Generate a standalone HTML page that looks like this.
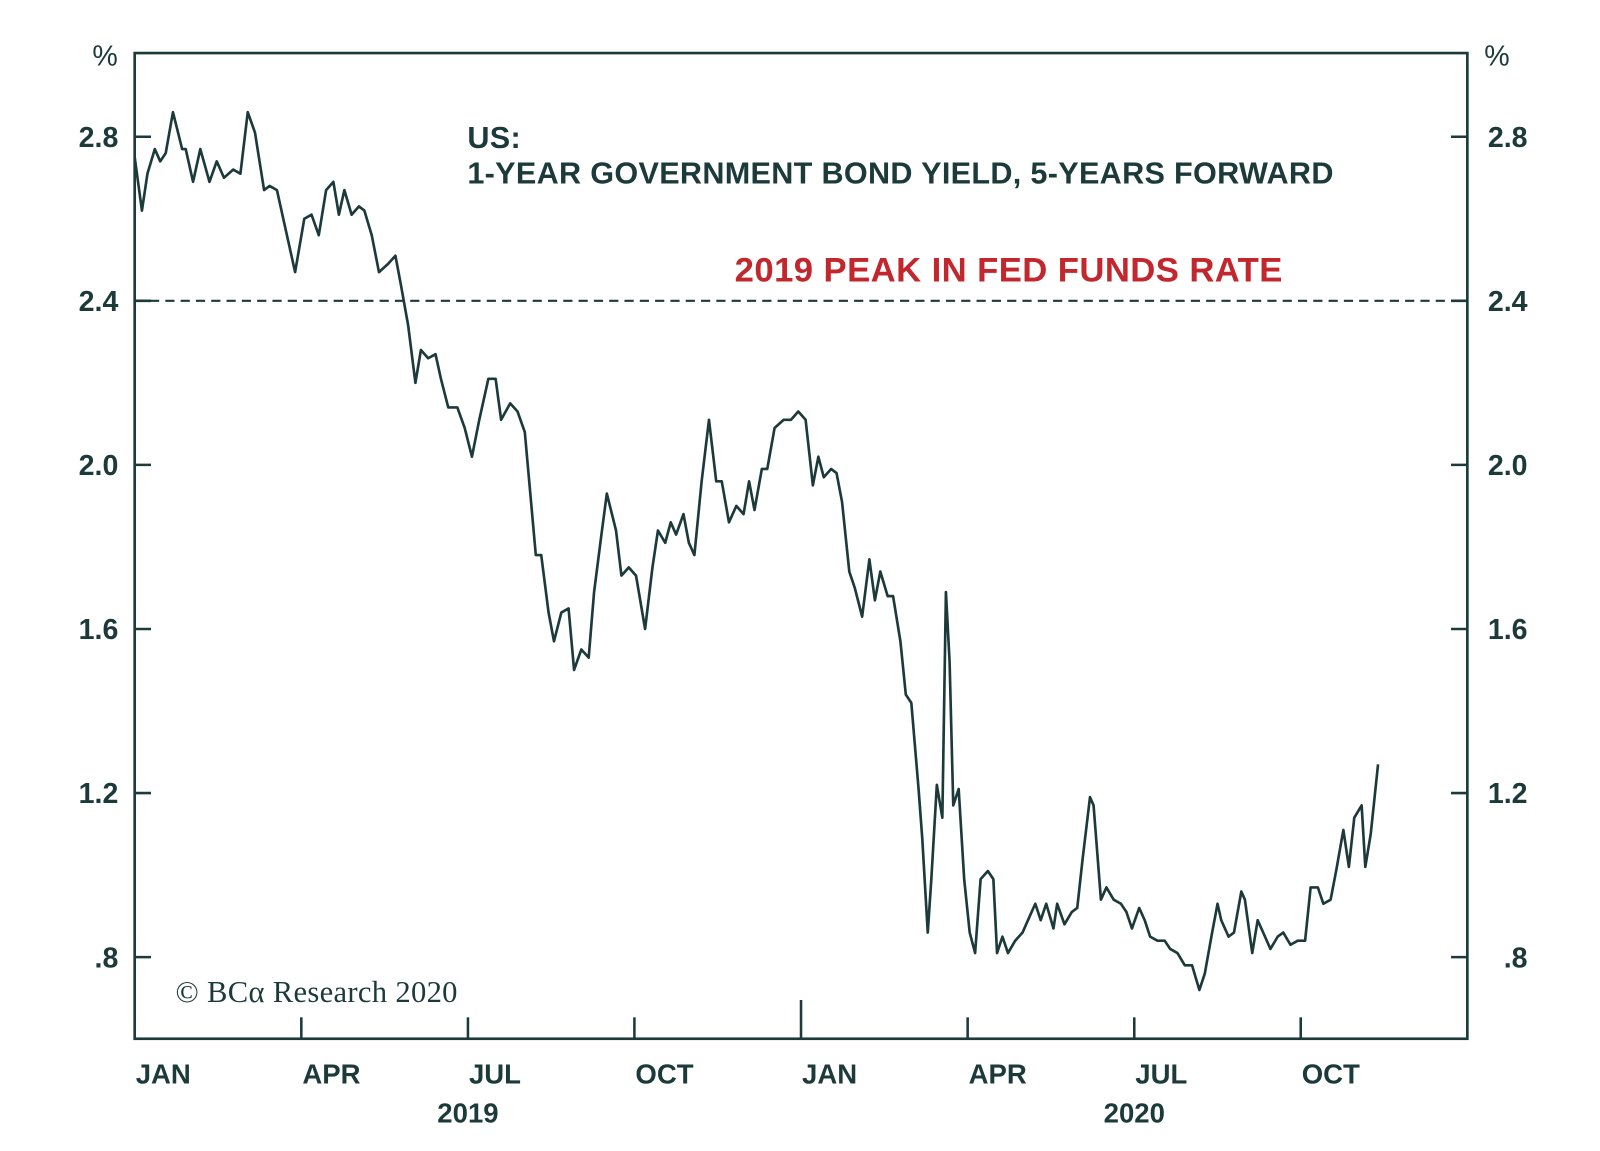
<!DOCTYPE html>
<html><head><meta charset="utf-8"><style>
html,body{margin:0;padding:0;background:#fff;}
svg{display:block;font-family:"Liberation Sans",sans-serif;}
.t{fill:#1d3a3a;font-weight:bold;font-size:28px;}
.m{fill:#1d3a3a;font-weight:bold;font-size:27px;}
</style></head><body>
<svg id="chart" width="1600" height="1151" viewBox="0 0 1568 1128" preserveAspectRatio="none">
<g id="axes"></g>
<g id="series"></g>
<text x="458" y="145" class="t" style="font-size:30px;letter-spacing:0.3px">US:</text>
<text x="458" y="180" class="t" style="font-size:30px;letter-spacing:0.3px">1-YEAR GOVERNMENT BOND YIELD, 5-YEARS FORWARD</text>
<text x="720" y="276" style="fill:#c1272d;font-weight:bold;font-size:34px;letter-spacing:0.4px">2019 PEAK IN FED FUNDS RATE</text>
<text x="172" y="982" style="fill:#1d3a3a;font-family:'Liberation Serif',serif;font-size:30px;letter-spacing:0.3px">© BCα Research 2020</text>
<script>
const days=[0,4,7,11,14,17,21,26,28,32,36,41,45,49,54,58,62,66,71,74,78,83,88,93,97,101,105,109,112,115,119,123,126,130,134,139,143,146,150,154,157,161,165,168,172,177,181,185,189,194,198,201,206,210,214,220,223,227,230,234,238,241,245,249,252,256,259,264,267,271,275,280,284,287,291,294,297,301,304,307,311,315,319,322,326,330,334,337,340,344,347,351,356,360,364,368,372,375,378,382,385,388,392,395,399,403,406,409,413,416,420,423,426,430,432,435,437,440,443,445,447,449,452,455,458,461,464,468,471,473,476,479,483,487,490,494,497,500,504,506,510,514,517,520,524,526,530,533,537,541,544,547,551,554,557,561,565,568,572,576,580,584,587,591,594,596,600,603,607,609,613,616,620,623,627,630,634,638,642,645,649,652,656,659,663,666,669,673,675,678,682];
const yields=[2.75,2.62,2.71,2.77,2.74,2.76,2.86,2.77,2.77,2.69,2.77,2.69,2.74,2.70,2.72,2.71,2.86,2.81,2.67,2.68,2.67,2.57,2.47,2.60,2.61,2.56,2.67,2.69,2.61,2.67,2.61,2.63,2.62,2.56,2.47,2.49,2.51,2.44,2.34,2.20,2.28,2.26,2.27,2.21,2.14,2.14,2.09,2.02,2.11,2.21,2.21,2.11,2.15,2.13,2.08,1.78,1.78,1.64,1.57,1.64,1.65,1.50,1.55,1.53,1.69,1.83,1.93,1.84,1.73,1.75,1.73,1.60,1.75,1.84,1.81,1.86,1.83,1.88,1.81,1.78,1.96,2.11,1.96,1.96,1.86,1.90,1.88,1.96,1.89,1.99,1.99,2.09,2.11,2.11,2.13,2.11,1.95,2.02,1.97,1.99,1.98,1.91,1.74,1.70,1.63,1.77,1.67,1.74,1.68,1.68,1.57,1.44,1.42,1.21,1.09,0.86,0.99,1.22,1.14,1.69,1.52,1.17,1.21,0.99,0.86,0.81,0.99,1.01,0.99,0.81,0.85,0.81,0.84,0.86,0.89,0.93,0.89,0.93,0.87,0.93,0.88,0.91,0.92,1.04,1.19,1.17,0.94,0.97,0.94,0.93,0.91,0.87,0.92,0.89,0.85,0.84,0.84,0.82,0.81,0.78,0.78,0.72,0.76,0.86,0.93,0.89,0.85,0.86,0.96,0.94,0.81,0.89,0.85,0.82,0.85,0.86,0.83,0.84,0.84,0.97,0.97,0.93,0.94,1.01,1.11,1.02,1.14,1.17,1.02,1.10,1.27];
const yTicks=[0.8,1.2,1.6,2.0,2.4,2.8];
const yTickLabels=[".8","1.2","1.6","2.0","2.4","2.8"];
const monthLabels=["JAN","APR","JUL","OCT","JAN","APR","JUL","OCT"];
const monthDays=[0,91.4,182.8,274.1,365.5,456.9,548.3,639.6];
const years=["2019","2020"];
const yearDays=[182.8,548.3];
const peakRate=[2.4];

const L=132,R=1438,T=52,B=1018,totalDays=731;
const xs=d=>L+d*(R-L)/totalDays;
const ys=v=>938-(v-0.8)*402;
const NS="http://www.w3.org/2000/svg";
const C="#1d3a3a";
function mk(tag,attrs,parent,text){const e=document.createElementNS(NS,tag);for(const k in attrs)e.setAttribute(k,attrs[k]);if(text!=null)e.textContent=text;parent.appendChild(e);return e;}
const ax=document.getElementById('axes');
const frame=mk('rect',{x:L,y:T,width:R-L,height:B-T,fill:'none',stroke:C,'stroke-width':2.6},ax);


yTicks.forEach((v,i)=>{
  const y=ys(v);
  const t1=mk('line',{x1:L,x2:L+16,y1:y,y2:y,stroke:C,'stroke-width':2.5},ax);
  
  
  const t2=mk('line',{x1:R-16,x2:R,y1:y,y2:y,stroke:C,'stroke-width':2.5},ax);
  
  
  const l1=mk('text',{x:116,y:y+10,class:'t','text-anchor':'end'},ax,yTickLabels[i]);
  
  
  const l2=mk('text',{x:1497,y:y+10,class:'t','text-anchor':'end'},ax,yTickLabels[i]);
  
  
});
const p1=mk('text',{x:103,y:64,class:'t','text-anchor':'middle',style:'font-weight:normal'},ax,'%');


const p2=mk('text',{x:1467,y:64,class:'t','text-anchor':'middle',style:'font-weight:normal'},ax,'%');


monthDays.forEach((d,i)=>{
  const x=xs(d);
  if(i>0){
    const tk=mk('line',{x1:x,x2:x,y1:B,y2:(i===4?980:997),stroke:C,'stroke-width':2.5},ax);
    
    
  }
  const lb=mk('text',{x:x+1,y:1062,class:'m'},ax,monthLabels[i]);
  
  
});
yearDays.forEach((d,i)=>{
  const yl=mk('text',{x:xs(d),y:1100,class:'m','text-anchor':'middle'},ax,years[i]);
  
  
});
const sr=document.getElementById('series');
const dl=mk('line',{x1:L,x2:R,y1:ys(peakRate[0]),y2:ys(peakRate[0]),stroke:C,'stroke-width':2.2,'stroke-dasharray':'9 6'},sr);


const pts=days.map((d,i)=>xs(d).toFixed(1)+','+ys(yields[i]).toFixed(1)).join(' ');
const pl=mk('polyline',{points:pts,fill:'none',stroke:C,'stroke-width':2.6,'stroke-linejoin':'round'},sr);


</script>
</svg>
</body></html>
